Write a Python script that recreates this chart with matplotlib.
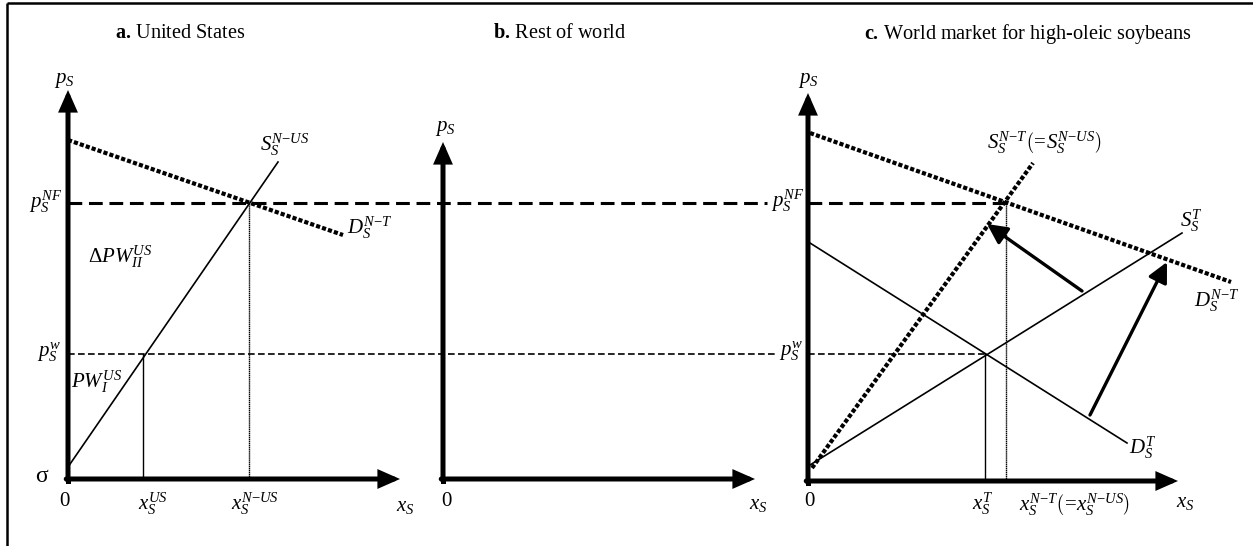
"""
Three-panel market diagram: US, rest of world, world market for high-oleic soybeans
"""

import matplotlib
matplotlib.use("Agg")
import matplotlib.pyplot as plt

plt.rcParams['font.family'] = ['Liberation Serif', 'DejaVu Serif']
plt.rcParams['mathtext.fontset'] = 'custom'
plt.rcParams['mathtext.rm'] = 'Liberation Serif'
plt.rcParams['mathtext.it'] = 'Liberation Serif:italic'
plt.rcParams['mathtext.bf'] = 'Liberation Serif:bold'

W, H = 1253, 546

# price levels (figure rows, y grows downward)
p_nf = 203
p_w = 354

# axis origins and arrow tips per panel
origins_x = [68, 443, 808]
origins_y = [479, 479, 481]
tips_x = [400, 755, 1178]
tips_y = [90, 142, 93]
titles = [r'$\mathbf{a.}\,\mathrm{United\ States}$',
          r'$\mathbf{b.}\,\mathrm{Rest\ of\ world}$',
          r'$\mathbf{c.}\,\mathrm{World\ market\ for\ high}$-$\mathrm{oleic\ soybeans}$']
title_x = [180, 560, 1028]

# panel a: United States
us_supply_x = [68, 278]
us_supply_y = [467, 162]
us_demand_x = [68, 343]
us_demand_y = [140, 235]
x_us = 143
x_nus = 249

# panel c: world market
w_demand_nt_x = [810, 1231]
w_demand_nt_y = [133, 282]
w_supply_nt_x = [812, 1033]
w_supply_nt_y = [468, 163]
w_demand_t_x = [810, 1127]
w_demand_t_y = [243, 443]
w_supply_t_x = [810, 1182]
w_supply_t_y = [465, 233]
x_t = 985
x_nt = 1006
shift_arrows = [((1082, 291), (987, 224)), ((1090, 415), (1167, 262))]

fig = plt.figure(figsize=(W / 100, H / 100), dpi=100)
ax = fig.add_axes([0, 0, 1, 1])
ax.set_xlim(0, W)
ax.set_ylim(H, 0)
ax.axis('off')

# frame (top and left only)
ax.plot([7, W], [3, 3], color='black', lw=1.8, solid_capstyle='butt')
ax.plot([7, 7], [3, H], color='black', lw=1.8, solid_capstyle='butt')

# axes with arrow heads
axis_style = dict(arrowstyle='-|>,head_length=0.5,head_width=0.22',
                  lw=3.6, color='black', mutation_scale=20,
                  shrinkA=0, shrinkB=0, joinstyle='miter')
for ox, oy, tx, ty in zip(origins_x, origins_y, tips_x, tips_y):
    ax.plot([ox, ox], [oy + 1.8, oy], color='black', lw=3.6)
    ax.annotate('', xy=(ox, ty), xytext=(ox, oy + 1.8), arrowprops=axis_style)
    ax.annotate('', xy=(tx, oy), xytext=(ox - 1.8, oy), arrowprops=axis_style)

for t, tx in zip(titles, title_x):
    ax.text(tx, 34, t, fontsize=14.6, ha='center', va='center')

# price lines crossing the panels
ax.plot([origins_x[0], 767], [p_nf, p_nf], color='black', lw=2.2,
        linestyle=(0, (4.5, 2.2)))
ax.plot([origins_x[2], x_nt], [p_nf, p_nf], color='black', lw=2.2,
        linestyle=(0, (4.5, 2.2)))
ax.plot([origins_x[0], 777], [p_w, p_w], color='black', lw=1.2,
        linestyle=(0, (4, 2)))
ax.plot([origins_x[2], x_t], [p_w, p_w], color='black', lw=1.2,
        linestyle=(0, (4, 2)))

dot = (0, (1, 0.5))

# panel a
ax.plot(us_supply_x, us_supply_y, color='black', lw=1.2)
ax.plot(us_demand_x, us_demand_y, color='black', lw=3, linestyle=dot)
ax.plot([x_us, x_us], [p_w, origins_y[0]], color='black', lw=1)
ax.plot([x_nus, x_nus], [p_nf, origins_y[0]], color='black', lw=1,
        linestyle=(0, (1, 0.4)))

# panel c
ax.plot(w_demand_nt_x, w_demand_nt_y, color='black', lw=3, linestyle=dot)
ax.plot(w_supply_nt_x, w_supply_nt_y, color='black', lw=3, linestyle=dot)
ax.plot(w_demand_t_x, w_demand_t_y, color='black', lw=1.2)
ax.plot(w_supply_t_x, w_supply_t_y, color='black', lw=1.2)
ax.plot([x_t, x_t], [p_w, origins_y[2]], color='black', lw=1)
ax.plot([x_nt, x_nt], [p_nf, origins_y[2]], color='black', lw=1,
        linestyle=(0, (1, 0.4)))
for tail, tip in shift_arrows:
    ax.annotate('', xy=tip, xytext=tail,
                arrowprops=dict(arrowstyle='-|>,head_length=0.6,head_width=0.3',
                                lw=2.4, color='black', mutation_scale=20,
                                shrinkA=0, shrinkB=0))

fs = 15
labels = [
    # panel a
    (64, 81, r'$p_S$', 'center'),
    (62, 202, r'$p_S^{NF}$', 'right'),
    (61, 352, r'$p_S^{w}$', 'right'),
    (285, 145, r'$S_S^{N{-}US}$', 'center'),
    (370, 228, r'$D_S^{N{-}T}$', 'center'),
    (120, 257, r'$\Delta PW_{II}^{US}$', 'center'),
    (97, 382, r'$PW_{I}^{US}$', 'center'),
    (65, 501, r'$0$', 'center'),
    (153, 504, r'$x_S^{US}$', 'center'),
    (255, 504, r'$x_S^{N{-}US}$', 'center'),
    (405, 506, r'$x_S$', 'center'),
    # panel b
    (445, 129, r'$p_S$', 'center'),
    (447, 502, r'$0$', 'center'),
    (758, 505, r'$x_S$', 'center'),
    (788, 201, r'$p_S^{NF}$', 'center'),
    (791, 351, r'$p_S^{w}$', 'center'),
    # panel c
    (808, 81, r'$p_S$', 'center'),
    (810, 502, r'$0$', 'center'),
    (1044, 143, r'$S_S^{N{-}T}\left(\!=\!S_S^{N{-}US}\right)$', 'center'),
    (1191, 221, r'$S_S^{T}$', 'center'),
    (1217, 301, r'$D_S^{N{-}T}$', 'center'),
    (1143, 448, r'$D_S^{T}$', 'center'),
    (983, 504, r'$x_S^{T}$', 'center'),
    (1075, 505, r'$x_S^{N{-}T}\left(\!=\!x_S^{N{-}US}\right)$', 'center'),
    (1185, 503, r'$x_S$', 'center'),
]
for lx, ly, s, ha in labels:
    ax.text(lx, ly, s, fontsize=fs, ha=ha, va='center')

ax.text(42, 477, 'σ', fontsize=17, ha='center', va='center')

fig.savefig('out.png', dpi=100)
